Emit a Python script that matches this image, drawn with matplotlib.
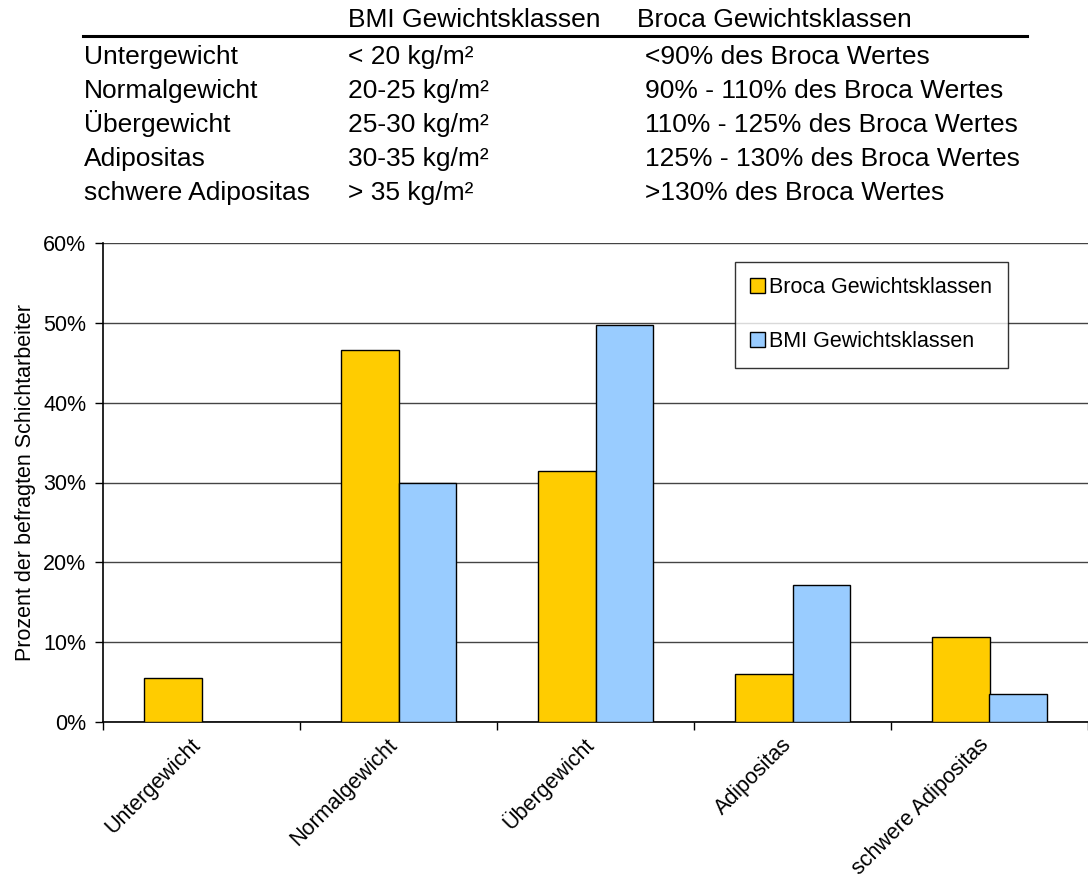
import numpy as np
import matplotlib.pyplot as plt
from matplotlib.ticker import FuncFormatter

plt.rcParams['font.family'] = ['Liberation Sans', 'DejaVu Sans']

# weight classes and share of surveyed shift workers (%)
klassen = ['Untergewicht', 'Normalgewicht', 'Übergewicht', 'Adipositas', 'schwere Adipositas']
broca = [5.5, 46.6, 31.4, 6.0, 10.6]
bmi = [0.0, 29.9, 49.7, 17.2, 3.5]

# definition table shown above the chart
bmi_grenzen = ['< 20 kg/m²', '20-25 kg/m²', '25-30 kg/m²', '30-35 kg/m²', '> 35 kg/m²']
broca_grenzen = ['<90% des Broca Wertes', '90% - 110% des Broca Wertes',
                 '110% - 125% des Broca Wertes', '125% - 130% des Broca Wertes',
                 '>130% des Broca Wertes']

W, H = 1088, 885
fig = plt.figure(figsize=(W / 100, H / 100), dpi=100)

# header table, placed in pixel units
tfs = 19
fig.text(348 / W, 1 - 27 / H, 'BMI Gewichtsklassen', fontsize=tfs, va='baseline')
fig.text(637 / W, 1 - 27 / H, 'Broca Gewichtsklassen', fontsize=tfs, va='baseline')
fig.add_artist(plt.Line2D([83 / W, 1027 / W], [1 - 36 / H, 1 - 36 / H],
                          color='black', lw=2.2))
for i, k in enumerate(klassen):
    y = 1 - (64 + 34 * i) / H
    fig.text(84 / W, y, k, fontsize=tfs, va='baseline')
    fig.text(348 / W, y, bmi_grenzen[i], fontsize=tfs, va='baseline')
    fig.text(645 / W, y, broca_grenzen[i], fontsize=tfs, va='baseline')

ax = fig.add_axes([103 / W, 1 - 722 / H, 1 - 103 / W, (722 - 243) / H])

x = np.arange(len(klassen))
bw = 0.29
ax.bar(x - bw / 2, broca, bw, color='#FFCC00', edgecolor='black', lw=1,
       label='Broca Gewichtsklassen', zorder=3)
ax.bar(x + bw / 2, bmi, bw, color='#99CCFF', edgecolor='black', lw=1,
       label='BMI Gewichtsklassen', zorder=3)

ax.set_xlim(-0.5, len(klassen) - 0.5)
ax.set_ylim(0, 60)
ax.set_yticks(np.arange(0, 61, 10))
ax.yaxis.set_major_formatter(FuncFormatter(lambda v, p: f'{v:.0f}%'))
ax.grid(axis='y', color='#444444', lw=1, zorder=0)

fs = 15.5
# tick marks between categories, labels at the centres
ax.set_xticks(np.arange(-0.5, len(klassen), 1))
ax.set_xticklabels([])
ax.set_xticks(x, minor=True)
ax.set_xticklabels(klassen, minor=True, rotation=45, ha='right', va='baseline',
                   rotation_mode='anchor', fontsize=fs)
ax.tick_params(axis='x', which='minor', length=0, pad=17)
ax.tick_params(axis='x', which='major', length=6, width=1)
ax.tick_params(axis='y', length=6, width=1, labelsize=fs, pad=6)

for s in ['top', 'right']:
    ax.spines[s].set_visible(False)
ax.spines['left'].set_linewidth(1.2)
ax.spines['bottom'].set_linewidth(1.2)

ax.set_ylabel('Prozent der befragten Schichtarbeiter', fontsize=fs, labelpad=5)

leg = ax.legend(loc='upper left', bbox_to_anchor=((735 - 103) / (W - 103), 1 - (262 - 243) / (722 - 243)),
                fontsize=fs, frameon=True, fancybox=False, edgecolor='black',
                handlelength=0.7, handleheight=0.7, handletextpad=0.2,
                labelspacing=1.55, borderpad=0.7, borderaxespad=0)
leg.get_frame().set_linewidth(1)

fig.savefig('out.png', dpi=100)
